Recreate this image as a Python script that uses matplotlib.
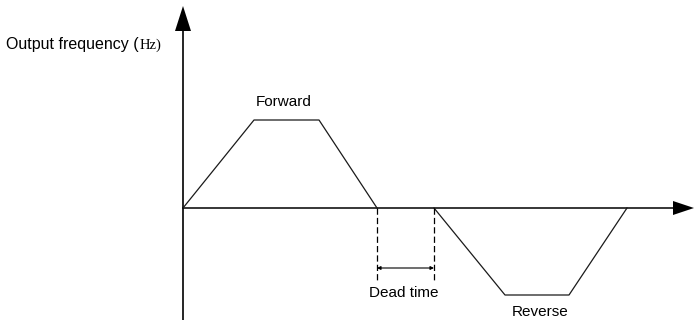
import matplotlib.pyplot as plt
from matplotlib.patches import Polygon

# Origin of the time/frequency axes in the picture (pixels)
X0, Y0 = 183, 208

# Forward run: time and frequency points
T_FWD = [0, 71, 136, 194]
F_FWD = [0, 88, 88, 0]

# Reverse run after the dead time
T_REV = [251, 322, 386, 444]
F_REV = [0, -87, -87, 0]

DEAD_START, DEAD_END = 194, 251

fig = plt.figure(figsize=(6.94, 3.2), dpi=100)
ax = fig.add_axes([0, 0, 1, 1])
ax.set_xlim(-X0, 694 - X0)
ax.set_ylim(Y0 - 320, Y0)
ax.axis('off')

lc = '#1a1a1a'

# axes
ax.plot([0, 0], [Y0 - 320, Y0 - 30], color='black', lw=1.2)
ax.plot([0, 490], [0, 0], color='black', lw=1.1)
ax.add_patch(Polygon([[-8, Y0 - 31], [8, Y0 - 31], [0, Y0 - 6]],
                     closed=True, color='black', lw=0))
ax.add_patch(Polygon([[490, 7], [490, -7], [511, 0]],
                     closed=True, color='black', lw=0))

# frequency profile
ax.plot(T_FWD, F_FWD, color=lc, lw=0.9)
ax.plot(T_REV, F_REV, color=lc, lw=0.9)

# dead time marker
for t in (DEAD_START, DEAD_END):
    ax.plot([t, t], [0, -72], color='black', lw=0.9, ls=(0, (5, 2.5)))
ax.annotate('', xy=(DEAD_START, -60), xytext=(DEAD_END, -60),
            arrowprops=dict(arrowstyle='<|-|>', color='black', lw=0.8,
                            mutation_scale=5, shrinkA=0, shrinkB=0))

font = 'Liberation Sans'
ax.text(101, 106, 'Forward', ha='center', va='center', fontsize=11,
        family=font)
ax.text(221, -85, 'Dead time', ha='center', va='center', fontsize=11,
        family=font)
ax.text(357, -104, 'Reverse', ha='center', va='center', fontsize=11,
        family=font)

t1 = ax.text(6 - X0, Y0 - 45, 'Output frequency (', ha='left', va='center',
             fontsize=11.5, family=font)
fig.canvas.draw()
bb = t1.get_window_extent()
x_end = ax.transData.inverted().transform((bb.x1, 0))[0]
ax.text(x_end + 1, Y0 - 45, 'Hz)', ha='left', va='center', fontsize=10.5,
        family='Liberation Serif')

fig.savefig('out.png', dpi=100)
